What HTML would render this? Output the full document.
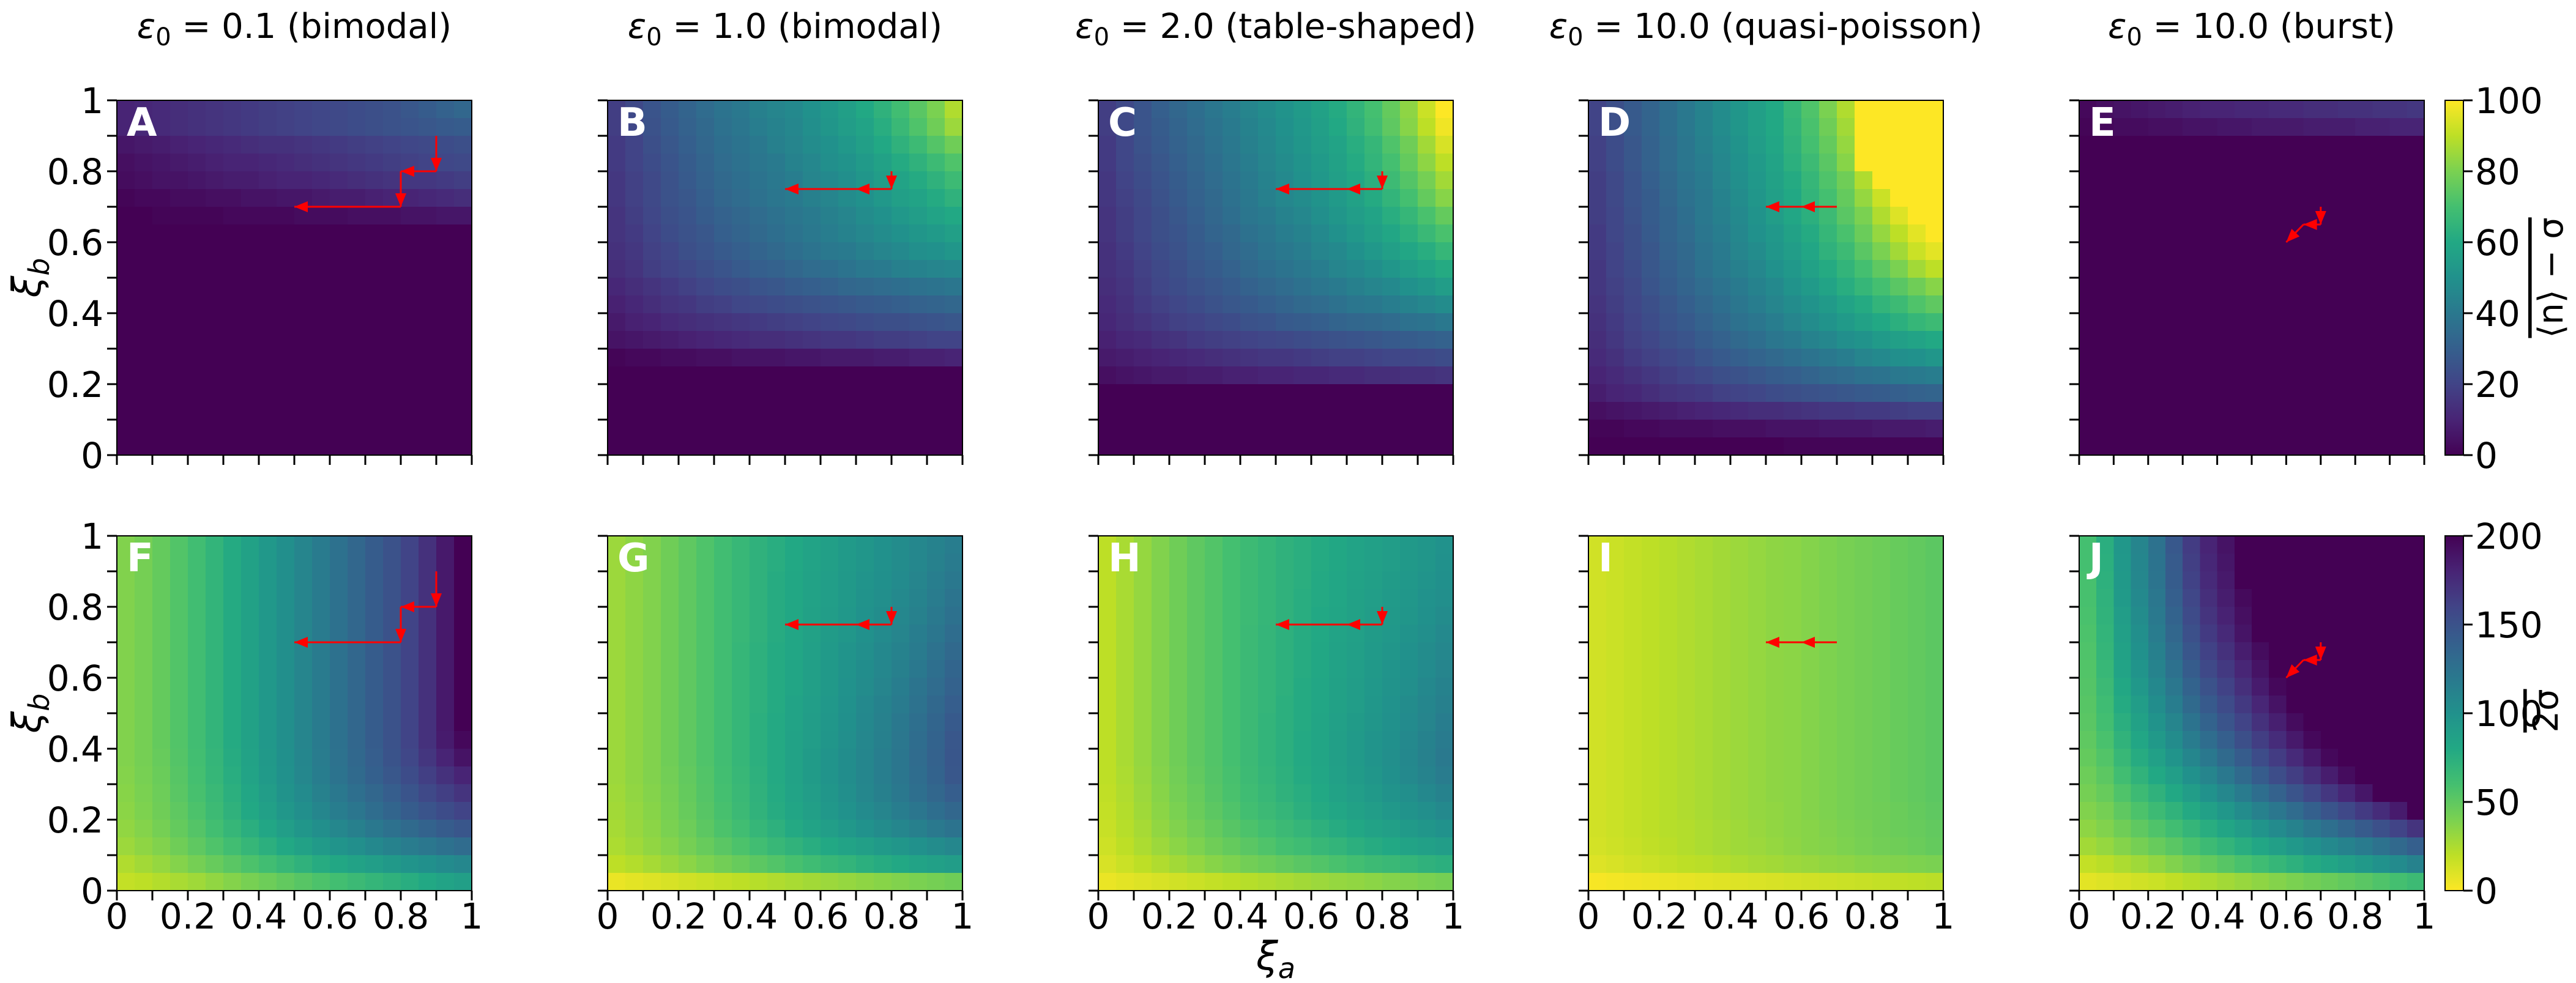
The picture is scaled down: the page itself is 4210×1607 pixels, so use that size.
<!DOCTYPE html>
<html><head><meta charset="utf-8">
<style>
html,body{margin:0;padding:0;background:#fff;}
svg{display:block;font-family:"DejaVu Sans","Liberation Sans",sans-serif;}
</style></head>
<body>
<svg id="fig" width="4210" height="1607" viewBox="0 0 4210 1607" xmlns="http://www.w3.org/2000/svg"></svg>
<script>
// ---------- data (rows listed from top row y=0.95..1 down to y=0..0.05) ----------
const xTickLabels = ['0','0.2','0.4','0.6','0.8','1'];
const yTickLabels = ['0','0.2','0.4','0.6','0.8','1'];
const cbTopTicks = [0,20,40,60,80,100];
const cbBotTicks = [0,50,100,150,200];
const titles = ['0.1 (bimodal)','1.0 (bimodal)','2.0 (table-shaped)','10.0 (quasi-poisson)','10.0 (burst)'];
const Z20 = [0,0,0,0,0,0,0,0,0,0,0,0,0,0,0,0,0,0,0,0];
const panelA = [
[10,11,12,13,14,15,16,17,18,19,20,21,22,23,24,25,27,29,31,33],
[10,11,12,13,14,15,16,17,18,19,20,21,22,23,24,25,26,27,28,29],
[6,7,8,9,10,11,12,13,14,14,15,16,17,18,19,20,21,22,23,24],
[4,5,6,7,8,9,10,10,11,12,13,14,15,16,17,18,19,20,21,22],
[3,4,5,5,6,7,8,8,9,10,10,11,12,13,14,15,16,16,17,18],
[1,2,2,3,3,4,4,5,5,6,6,7,8,8,9,10,10,11,12,13],
[0,0,1,1,1,1,2,2,2,2,3,3,3,4,4,4,5,5,6,6],
Z20,Z20,Z20,Z20,Z20,Z20,Z20,Z20,Z20,Z20,Z20,Z20,Z20];
const panelB = [
[18,22,26,29,32,35,38,40,43,45,47,50,53,56,60,64,69,74,80,88],
[18,21,25,28,31,34,37,39,42,44,46,49,52,55,58,62,67,72,78,85],
[17,20,24,27,30,33,36,38,40,43,45,48,50,53,56,60,64,68,73,78],
[17,20,23,26,29,32,35,37,39,41,44,46,49,51,54,57,61,64,68,72],
[16,19,22,25,28,31,34,36,38,40,42,45,47,49,52,55,58,61,64,68],
[16,19,22,25,27,30,33,35,37,39,41,43,45,48,50,53,56,58,61,64],
[15,18,21,24,26,29,31,33,35,37,39,41,43,45,48,50,53,55,58,60],
[15,17,20,23,25,27,30,32,34,36,38,40,42,44,46,48,50,52,54,56],
[14,16,19,21,24,26,28,30,32,34,36,38,40,41,43,45,47,49,50,52],
[13,15,18,20,22,24,26,28,30,31,33,35,36,38,40,41,43,44,45,46],
[11,13,15,17,19,21,23,24,26,27,29,30,31,33,34,35,36,37,38,39],
[9,11,13,15,16,18,19,21,22,23,24,25,26,27,28,29,30,31,32,33],
[7,9,10,12,13,14,15,16,17,18,19,20,21,22,23,24,24,25,26,27],
[5,6,7,8,9,10,11,12,13,13,14,15,16,16,17,18,18,19,20,20],
[1,2,2,3,3,4,4,5,5,5,6,6,7,7,7,8,8,9,9,10],
Z20,Z20,Z20,Z20,Z20];
const panelC = [
[18,22,26,30,33,36,39,42,45,48,51,54,57,61,65,70,76,83,92,100],
[18,22,26,29,32,35,38,41,44,47,50,53,56,60,64,69,75,82,90,98],
[17,21,25,28,31,34,37,40,43,46,49,52,55,58,62,66,72,78,86,94],
[17,21,24,27,30,33,36,39,42,45,48,51,54,57,61,65,70,76,83,90],
[16,20,23,26,29,32,35,38,41,44,47,50,53,56,59,63,68,73,79,86],
[16,19,22,25,28,31,34,37,40,43,46,48,51,54,57,61,65,70,76,82],
[15,18,21,24,27,30,33,36,39,41,44,46,49,52,55,58,62,66,71,76],
[15,18,21,24,26,29,32,34,37,39,42,44,47,50,53,56,59,63,67,71],
[14,17,20,23,25,28,30,33,35,38,40,42,45,47,50,53,56,59,62,66],
[14,16,19,22,24,27,29,31,34,36,38,40,42,45,47,49,52,55,58,61],
[13,15,18,21,23,25,27,29,31,33,35,37,39,41,43,45,47,50,52,55],
[12,14,17,19,21,23,25,27,28,30,32,34,35,37,39,40,42,44,46,48],
[11,13,15,17,19,20,22,23,25,26,28,29,30,32,33,34,35,37,38,40],
[9,11,12,14,15,17,18,19,20,21,22,23,24,25,26,27,28,29,30,31],
[7,8,9,10,11,12,13,14,15,16,16,17,18,19,19,20,21,21,22,23],
[4,5,6,7,7,8,8,9,9,10,10,11,11,12,12,13,13,14,14,15],
Z20,Z20,Z20,Z20];
const panelD = [
[20,24,28,32,36,40,44,48,52,56,60,66,72,80,88,100,100,100,100,100],
[20,24,28,32,36,40,44,48,52,56,60,65,71,78,86,100,100,100,100,100],
[19,23,27,31,35,39,43,47,51,55,59,64,70,76,84,100,100,100,100,100],
[19,23,27,31,35,39,42,46,50,54,58,63,68,74,82,100,100,100,100,100],
[18,22,26,30,34,38,41,45,49,53,57,61,66,72,78,88,100,100,100,100],
[18,22,26,29,33,37,40,44,48,52,56,60,65,70,76,84,92,100,100,100],
[18,21,25,29,32,36,40,43,47,51,55,59,63,68,74,80,88,95,100,100],
[17,21,24,28,32,35,39,42,46,50,53,57,61,66,71,77,84,90,96,100],
[17,20,24,27,31,34,38,41,45,48,52,55,59,64,68,74,80,86,92,96],
[16,20,23,27,30,33,37,40,43,46,50,53,57,61,65,70,75,80,86,90],
[16,19,22,26,29,32,35,38,41,44,47,51,54,58,62,66,70,74,78,82],
[15,18,21,24,27,30,33,36,39,42,45,48,51,54,58,61,65,68,72,75],
[14,17,20,23,26,28,31,34,37,39,42,45,48,51,54,57,60,63,66,68],
[13,16,19,21,24,26,29,31,34,36,39,41,44,46,49,51,54,56,58,60],
[12,14,17,19,21,23,26,28,30,32,34,36,38,40,42,45,47,49,50,52],
[10,12,14,16,18,20,22,24,25,27,29,30,32,34,35,37,38,40,41,42],
[8,10,11,13,15,16,17,19,20,21,23,24,25,26,27,28,29,30,31,32],
[4,5,6,7,8,9,10,11,12,13,13,14,15,16,16,17,17,18,19,19],
[1,1,2,2,3,3,3,4,4,4,5,5,5,6,6,6,7,7,7,8],
[0,0,0,0,0,0,0,0,0,0,0,1,1,1,1,1,1,1,1,1]];
const panelE = [
[2,4,5,6,7,8,9,10,10,11,11,12,12,13,13,14,14,15,15,16],
[1,2,3,3,4,4,5,5,6,6,7,7,7,8,8,8,9,9,10,10],
Z20,Z20,Z20,Z20,Z20,Z20,Z20,Z20,Z20,Z20,Z20,Z20,Z20,Z20,Z20,Z20,Z20,Z20];
const FTOP = [38,42,48,55,62,70,78,86,94,102,110,118,126,134,142,150,160,172,186,200];
const panelF = [FTOP,FTOP,FTOP,FTOP,FTOP,FTOP,FTOP,FTOP,FTOP,FTOP,FTOP,
[38,42,48,55,62,70,78,86,94,102,110,118,126,134,142,150,160,172,185,196],
[38,42,47,54,61,69,77,85,93,101,109,117,125,133,141,149,158,169,180,190],
[37,41,46,53,60,68,76,84,92,100,108,116,124,131,139,146,154,163,172,180],
[36,40,45,52,59,66,74,82,90,98,105,113,120,127,134,141,148,156,163,170],
[35,39,44,50,57,64,72,80,87,95,102,109,116,122,129,135,142,148,154,160],
[33,37,42,48,54,61,68,75,82,89,96,102,108,114,120,126,131,137,142,147],
[30,34,38,44,50,56,62,68,74,80,86,92,97,102,107,112,117,121,126,130],
[24,28,32,37,42,47,52,57,62,67,72,77,81,85,89,93,97,101,105,108],
[18,20,23,26,29,33,37,41,45,49,53,57,61,65,69,72,76,80,84,88]];
const panelG = [
[30,34,38,44,50,56,62,67,72,76,80,84,88,92,96,100,104,108,112,116],
[30,34,38,44,50,56,62,67,72,76,80,84,88,92,96,100,104,108,113,118],
[30,34,38,44,50,56,62,67,72,77,81,85,89,93,97,101,105,110,115,120],
[30,34,38,44,50,56,62,67,72,77,81,85,89,93,98,102,106,111,117,123],
[30,34,38,44,50,56,62,67,72,77,81,86,90,94,99,103,108,113,119,126],
[30,34,38,44,50,56,62,67,72,77,82,86,91,95,100,105,110,116,122,129],
[30,34,38,44,50,56,62,68,73,78,82,87,92,97,102,107,112,118,125,132],
[30,34,38,44,50,56,62,68,73,78,83,88,93,98,103,108,114,120,127,135],
[30,34,38,44,50,56,62,68,73,78,83,88,93,99,104,110,116,123,130,138],
[30,34,38,44,50,56,62,68,73,78,84,89,94,100,106,112,118,125,133,141],
[30,34,38,44,50,56,62,68,74,79,84,90,95,101,107,113,120,127,135,144],
[30,34,38,44,50,56,62,68,74,79,85,90,96,102,108,114,121,129,137,146],
[30,34,38,44,50,56,62,68,74,79,85,91,97,103,109,115,122,130,138,147],
[30,34,38,43,49,55,61,67,73,79,85,91,97,103,109,115,122,129,137,146],
[29,33,37,42,48,54,60,66,72,78,84,90,96,102,108,114,120,127,134,141],
[28,32,36,41,47,53,59,65,71,77,83,88,94,99,105,110,116,122,128,134],
[27,31,35,40,45,51,57,62,68,73,79,84,89,94,99,104,109,114,119,124],
[25,29,33,37,42,47,52,57,62,67,71,76,80,84,88,92,96,100,104,108],
[20,23,27,31,35,39,43,47,51,55,59,63,67,70,74,77,80,84,87,90],
[6,8,10,12,14,16,18,20,22,24,26,28,30,32,34,36,38,40,42,44]];
const panelH = [
[20,26,32,38,44,50,55,60,64,68,72,75,78,81,84,87,90,93,96,99],
[20,26,32,38,44,50,55,60,64,68,72,75,78,81,84,87,90,93,96,100],
[20,26,32,38,44,50,55,60,64,68,72,75,79,82,85,88,91,94,97,101],
[20,26,32,38,44,50,55,60,64,68,72,76,79,82,86,89,92,95,99,102],
[20,26,32,38,44,50,55,60,64,68,72,76,80,83,86,90,93,96,100,104],
[20,26,32,38,44,50,55,60,65,69,73,77,80,84,87,91,94,98,102,106],
[20,26,32,38,44,50,55,60,65,69,73,77,81,85,88,92,96,100,104,108],
[20,26,32,38,44,50,55,60,65,69,73,77,81,85,89,93,97,101,105,110],
[20,26,32,38,44,50,55,60,65,69,73,78,82,86,90,94,98,102,107,112],
[20,26,32,38,44,50,55,60,65,69,74,78,82,86,90,95,99,104,109,114],
[20,26,32,38,44,50,55,60,65,70,74,78,83,87,91,96,100,105,110,116],
[20,26,32,38,44,50,55,60,65,70,74,79,83,88,92,97,101,106,112,118],
[20,26,32,38,44,50,55,60,65,70,74,79,83,88,92,97,102,107,113,119],
[20,25,31,37,43,49,54,59,64,69,73,78,82,87,91,96,101,106,111,117],
[19,24,30,36,42,47,53,58,63,67,72,76,80,85,89,93,98,102,107,112],
[18,23,29,35,40,46,51,56,61,65,69,74,78,82,86,90,94,98,102,106],
[17,22,27,33,38,43,48,53,57,61,65,69,73,77,81,85,88,92,96,99],
[15,20,25,30,35,39,44,48,52,56,60,63,67,70,74,77,80,84,87,90],
[12,16,20,24,28,32,36,39,43,46,49,52,55,58,61,64,66,69,72,74],
[6,8,10,12,14,16,18,20,22,24,26,28,30,32,33,35,37,38,40,42]];
const ITOP = [14,16,18,20,22,24,26,28,30,32,34,35,37,39,41,43,45,47,49,51];
const panelI = [ITOP,ITOP,ITOP,ITOP,ITOP,ITOP,ITOP,ITOP,ITOP,ITOP,ITOP,ITOP,ITOP,ITOP,ITOP,
[14,16,18,20,22,24,26,28,30,32,33,35,37,39,41,43,44,46,48,50],
[14,16,18,20,22,23,25,27,29,31,33,35,36,38,40,42,44,46,47,49],
[13,15,17,19,21,23,25,27,29,30,32,34,36,37,39,41,43,44,46,48],
[10,12,14,16,18,20,21,23,25,27,28,30,31,33,34,36,37,38,39,40],
[2,3,4,5,6,7,8,9,10,11,12,13,14,15,16,17,18,19,20,21]];
const panelJ = [
[60,75,95,110,125,145,165,180,190,200,200,200,200,200,200,200,200,200,200,200],
[60,74,94,109,124,143,163,178,188,200,200,200,200,200,200,200,200,200,200,200],
[59,73,93,108,123,142,161,176,186,200,200,200,200,200,200,200,200,200,200,200],
[59,72,92,106,121,140,158,173,184,195,200,200,200,200,200,200,200,200,200,200],
[58,71,90,104,119,137,155,170,181,192,200,200,200,200,200,200,200,200,200,200],
[57,70,88,102,117,134,151,166,177,189,200,200,200,200,200,200,200,200,200,200],
[56,69,86,100,114,130,147,161,172,184,194,200,200,200,200,200,200,200,200,200],
[55,67,84,97,111,126,142,156,167,179,190,200,200,200,200,200,200,200,200,200],
[54,65,81,94,107,121,137,150,161,173,185,196,200,200,200,200,200,200,200,200],
[53,63,78,90,103,116,131,144,155,167,179,190,200,200,200,200,200,200,200,200],
[52,61,75,86,98,110,124,137,148,160,172,183,194,200,200,200,200,200,200,200],
[50,58,71,82,93,104,117,129,140,152,164,175,186,196,200,200,200,200,200,200],
[48,55,67,77,87,97,109,120,131,142,154,165,176,186,196,200,200,200,200,200],
[45,51,62,71,80,89,100,110,120,131,142,153,164,174,184,194,200,200,200,200],
[42,47,56,64,72,80,90,99,108,118,128,138,148,158,168,178,188,200,200,200],
[38,42,50,57,64,71,79,87,95,104,113,121,130,139,148,157,166,175,185,200],
[34,38,44,50,56,62,69,76,83,90,97,105,112,120,127,135,143,151,160,170],
[28,32,37,42,47,52,58,64,70,76,82,88,94,100,106,112,118,125,132,140],
[18,21,25,29,33,38,43,48,53,58,63,68,73,78,83,88,93,99,105,112],
[8,10,12,14,16,19,22,25,28,31,34,37,40,43,46,49,52,56,60,64]];
// arrow paths in data coordinates (x, y)
const arrowsA = [[0.9,0.9],[0.9,0.8],[0.8,0.8],[0.8,0.7],[0.5,0.7]];
const arrowsB = [[0.8,0.8],[0.8,0.75],[0.7,0.75],[0.5,0.75]];
const arrowsC = [[0.8,0.8],[0.8,0.75],[0.7,0.75],[0.5,0.75]];
const arrowsD = [[0.7,0.7],[0.6,0.7],[0.5,0.7]];
const arrowsE = [[0.7,0.7],[0.7,0.65],[0.65,0.65],[0.6,0.6]];
const arrowsF = [[0.9,0.9],[0.9,0.8],[0.8,0.8],[0.8,0.7],[0.5,0.7]];
const arrowsG = [[0.8,0.8],[0.8,0.75],[0.7,0.75],[0.5,0.75]];
const arrowsH = [[0.8,0.8],[0.8,0.75],[0.7,0.75],[0.5,0.75]];
const arrowsI = [[0.7,0.7],[0.6,0.7],[0.5,0.7]];
const arrowsJ = [[0.7,0.7],[0.7,0.65],[0.65,0.65],[0.6,0.6]];

// ---------- rendering ----------
const NS = 'http://www.w3.org/2000/svg';
const svg = document.getElementById('fig');
const VIR = ['#440154','#482475','#414487','#355f8d','#2a788e','#21918c','#22a884','#44bf70','#7ad151','#bddf26','#fde725'];
function hex(h){return [parseInt(h.slice(1,3),16),parseInt(h.slice(3,5),16),parseInt(h.slice(5,7),16)];}
function viridis(t){
  t=Math.max(0,Math.min(1,t)); const p=t*10, i=Math.min(9,Math.floor(p)), f=p-i;
  const a=hex(VIR[i]), b=hex(VIR[i+1]);
  return 'rgb('+a.map((v,k)=>Math.round(v+(b[k]-v)*f)).join(',')+')';
}
function el(tag, attrs, parent){
  const e=document.createElementNS(NS,tag);
  for(const k in attrs) e.setAttribute(k,attrs[k]);
  (parent||svg).appendChild(e); return e;
}
const colLeft = [191,993,1795,2596,3398];
const rowTop = [164,876];
const H = 580;
const panels = [
 {id:'A',data:panelA,c:0,r:0,vmax:100,rev:false,arr:arrowsA},
 {id:'B',data:panelB,c:1,r:0,vmax:100,rev:false,arr:arrowsB},
 {id:'C',data:panelC,c:2,r:0,vmax:100,rev:false,arr:arrowsC},
 {id:'D',data:panelD,c:3,r:0,vmax:100,rev:false,arr:arrowsD},
 {id:'E',data:panelE,c:4,r:0,vmax:100,rev:false,arr:arrowsE},
 {id:'F',data:panelF,c:0,r:1,vmax:200,rev:true,arr:arrowsF},
 {id:'G',data:panelG,c:1,r:1,vmax:200,rev:true,arr:arrowsG},
 {id:'H',data:panelH,c:2,r:1,vmax:200,rev:true,arr:arrowsH},
 {id:'I',data:panelI,c:3,r:1,vmax:200,rev:true,arr:arrowsI},
 {id:'J',data:panelJ,c:4,r:1,vmax:200,rev:true,arr:arrowsJ}
];
panels.forEach(p=>{
  const x0=colLeft[p.c], y0=rowTop[p.r], W=(p.c===4?564:580);
  const xs=v=>x0+v*W, ys=v=>y0+H-v*H;
  const g=el('g',{});
  
  
  const nr=p.data.length;
  p.data.forEach((row,ri)=>{
    const yv=(nr-1-ri)/nr;
    row.forEach((v,ci)=>{
      const nc=row.length;
      const t=p.rev?1-v/p.vmax:v/p.vmax;
      const r=el('rect',{x:xs(ci/nc),y:ys(yv+1/nr),width:W/nc+0.6,height:H/nr+0.6,fill:viridis(t),'shape-rendering':'crispEdges'},g);
      
      
    });
  });
  const fr=el('rect',{x:x0,y:y0,width:W,height:H,fill:'none',stroke:'#000','stroke-width':2},g);
  
  
  // ticks
  for(let k=0;k<=10;k++){
    const tx=el('line',{x1:xs(k/10),x2:xs(k/10),y1:y0+H,y2:y0+H+16,stroke:'#000','stroke-width':3},g);
    
    
    const ty=el('line',{x1:x0-16,x2:x0,y1:ys(k/10),y2:ys(k/10),stroke:'#000','stroke-width':3},g);
    
    
  }
  if(p.c===0){
    yTickLabels.forEach((lab,k)=>{
      const t=el('text',{x:x0-22,y:ys(k/5)+21,'text-anchor':'end','font-size':58},g);
      t.textContent=lab;
      
      
    });
  }
  if(p.r===1){
    xTickLabels.forEach((lab,k)=>{
      const t=el('text',{x:xs(k/5),y:1518,'text-anchor':'middle','font-size':58},g);
      t.textContent=lab;
      
      
    });
  }
  // arrows
  const ag=el('g',{},g);
  
  
  for(let k=1;k<p.arr.length;k++){
    const ax=xs(p.arr[k-1][0]), ay=ys(p.arr[k-1][1]), bx=xs(p.arr[k][0]), by=ys(p.arr[k][1]);
    const ln=el('line',{x1:ax,y1:ay,x2:bx,y2:by,stroke:'#ff0000','stroke-width':3},ag);
    
    
    const dx=bx-ax, dy=by-ay, L=Math.hypot(dx,dy)||1, ux=dx/L, uy=dy/L, len=22, hw=9;
    const pts=[[bx,by],[bx-ux*len-uy*hw,by-uy*len+ux*hw],[bx-ux*len+uy*hw,by-uy*len-ux*hw]];
    const hd=el('polygon',{points:pts.map(q=>q.join(',')).join(' '),fill:'#ff0000'},ag);
    
    
  }
  const lb=el('text',{x:x0+16,y:y0+58,'font-size':64,'font-weight':'bold',fill:'#fff'},g);
  lb.textContent=p.id;
  
  
  if(p.r===0){
    const t=el('text',{x:x0+W/2,y:62,'text-anchor':'middle','font-size':56},g);
    
    
    const e1=el('tspan',{'font-style':'italic'},t); e1.textContent='ε';
    const e2=el('tspan',{'font-size':40,dy:12},t); e2.textContent='0';
    const e3=el('tspan',{dy:-12},t); e3.textContent=' = '+titles[p.c];
  }
});
// colorbars
const defs=el('defs',{});
function grad(id,rev){
  const lg=el('linearGradient',{id:id,x1:0,y1:1,x2:0,y2:0},defs);
  for(let i=0;i<=20;i++){el('stop',{offset:(i/20),'stop-color':viridis(rev?1-i/20:i/20)},lg);}
}
grad('gTop',false); grad('gBot',true);
function colorbar(y0,gid,ticks,vmax,name){
  const g=el('g',{});
  
  
  el('rect',{x:3996,y:y0,width:30,height:H,fill:'url(#'+gid+')',stroke:'#000','stroke-width':2},g);
  ticks.forEach(v=>{
    const yy=y0+H-v/vmax*H;
    const l=el('line',{x1:4026,x2:4041,y1:yy,y2:yy,stroke:'#000','stroke-width':3},g);
    
    
    const t=el('text',{x:4045,y:yy+21,'font-size':58},g);
    t.textContent=String(v);
    
    
  });
  return g;
}
colorbar(164,'gTop',cbTopTicks,100,'colorbar-top');
colorbar(876,'gBot',cbBotTicks,200,'colorbar-bottom');
const c1=el('text',{x:0,y:0,'font-size':56,'text-anchor':'middle','text-decoration':'overline',transform:'translate(4188,454) rotate(-90)'});
c1.textContent='⟨n⟩ − σ';


const c2=el('text',{x:0,y:0,'font-size':56,'text-anchor':'middle','text-decoration':'overline',transform:'translate(4180,1162) rotate(-90)'});
c2.textContent='2σ';


// axis labels
[454,1166].forEach(cy=>{
  const t=el('text',{x:0,y:0,'font-size':64,'font-style':'italic','text-anchor':'middle',transform:'translate(66,'+cy+') rotate(-90)'});
  
  
  const a=el('tspan',{},t); a.textContent='ξ';
  const b=el('tspan',{'font-size':46,dy:14},t); b.textContent='b';
});
const xt=el('text',{x:2085,y:1585,'font-size':64,'font-style':'italic','text-anchor':'middle'});


const xa=el('tspan',{},xt); xa.textContent='ξ';
const xb=el('tspan',{'font-size':46,dy:14},xt); xb.textContent='a';
</script>
</body></html>
